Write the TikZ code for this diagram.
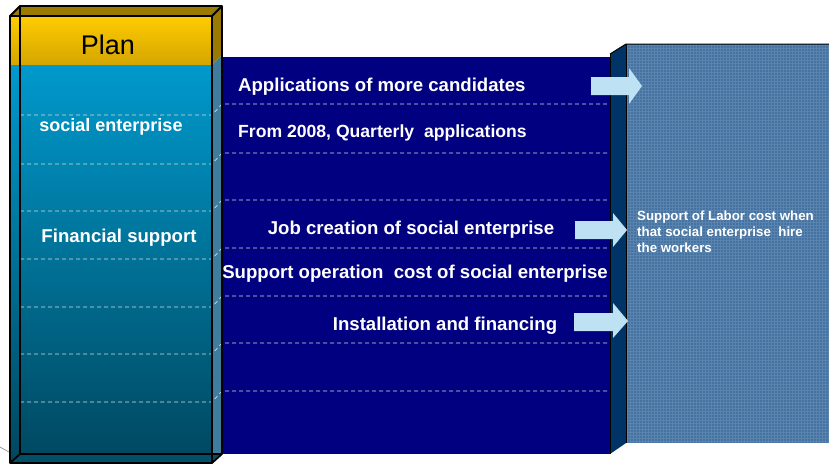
\documentclass[tikz,border=0pt]{standalone}
\usepackage{fontspec}
\setmainfont{Liberation Sans}
\definecolor{navypanel}{HTML}{000080}
\definecolor{rightface}{HTML}{4472A2}
\definecolor{rightside}{HTML}{003366}
\definecolor{arrowblue}{HTML}{BEE1F3}
\definecolor{goldtop}{HTML}{FFCC00}
\definecolor{goldbot}{HTML}{D4A500}
\definecolor{golddark}{HTML}{9A7A00}
\definecolor{bluetop}{HTML}{0099CC}
\definecolor{bluebot}{HTML}{00475F}
\definecolor{stripblue}{HTML}{3E7D9E}
\definecolor{bottomface}{HTML}{00506A}
\definecolor{dashgrey}{HTML}{DDDDDD}
\begin{document}
\begin{tikzpicture}[x=1pt,y=-1pt,line join=round,
  rowdash/.style={draw=dashgrey,dash pattern=on 4pt off 3pt,line width=0.7pt},
  boxedge/.style={draw=black,line width=1.8pt},
  paneltext/.style={text=white,font=\bfseries\fontsize{18.6}{22}\selectfont,inner sep=0pt},
  blockarrow/.style={fill=arrowblue,draw=none}]
\useasboundingbox (0,0) rectangle (829,464);
% right 3D panel
\fill[rightside] (610,54) -- (626,44) -- (626,443) -- (610,454) -- cycle;
\fill[rightface] (626,44) rectangle (829,443);
\begin{scope}
\clip (626,44) rectangle (829,443);
\draw[white,opacity=0.12,line width=0.5pt,step=3pt] (626,44) grid (829,443);
\end{scope}
\draw[black,line width=1pt] (610,54) -- (626,44) -- (829,44);
\draw[black,line width=1pt] (626,44) -- (626,443);
\draw[black,line width=0.4pt] (610,54) -- (610,454);
% navy panel
\fill[navypanel] (222,57) rectangle (610,454);
% left box faces
\fill[golddark] (10,16) -- (20,6) -- (222,6) -- (212,16) -- cycle;
\shade[top color=goldtop,bottom color=goldbot] (10,16) rectangle (212,65);
\shade[top color=bluetop,bottom color=bluebot] (10,65) rectangle (212,463);
\fill[golddark] (212,16) -- (222,6) -- (222,55) -- (212,65) -- cycle;
\fill[stripblue] (212,65) -- (222,55) -- (222,454) -- (212,463) -- cycle;
\fill[bottomface] (10,463) -- (20,454) -- (222,454) -- (212,463) -- cycle;
% dashed row lines
\foreach \y in {104,153,200,248,296,343,391}{
  \draw[rowdash] (20,\y+11) -- (212,\y+11) -- (222,\y) -- (610,\y);
}
% box edges
\draw[boxedge] (10,16) rectangle (212,463);
\draw[boxedge] (20,6) rectangle (222,454);
\draw[boxedge] (10,16) -- (20,6);
\draw[boxedge] (212,16) -- (222,6);
\draw[boxedge] (10,463) -- (20,454);
\draw[boxedge] (212,463) -- (222,454);
% small stray line
\draw[gray,line width=0.6pt] (0,447) -- (9,452);
% texts
\node[inner sep=0pt,font=\fontsize{27}{31}\selectfont] (plan) at (108,45) {Plan};
\node[paneltext,font=\bfseries\fontsize{18}{21}\selectfont] (se) at (111,126.5) {social enterprise};
\node[paneltext] (fs) at (119,237.5) {Financial support};
\node[paneltext,anchor=west] (t1) at (238,87) {Applications of more candidates};
\node[paneltext,anchor=west,font=\bfseries\fontsize{17.6}{21}\selectfont] (t2) at (238,132.5) {From 2008, Quarterly~ applications};
\node[paneltext] (t3) at (411,229.5) {Job creation of social enterprise};
\node[paneltext] (t4) at (415,274) {Support operation~ cost of social enterprise};
\node[paneltext] (t5) at (445,326) {Installation and financing};
\node[text=white,font=\bfseries\fontsize{13.3}{16}\selectfont,inner sep=0pt,anchor=north west,align=left] (rt) at (637,211) {Support of Labor cost when\\that social enterprise~ hire\\the workers};
% block arrows
\fill[blockarrow] (591,77) -- (629,77) -- (629,68) -- (642,86) -- (629,104) -- (629,95) -- (591,95) -- cycle;
\fill[blockarrow] (575,221) -- (613,221) -- (613,213) -- (627,230) -- (613,247) -- (613,239) -- (575,239) -- cycle;
\fill[blockarrow] (574,313) -- (613,313) -- (613,303) -- (628,321) -- (613,338) -- (613,331) -- (574,331) -- cycle;
\end{tikzpicture}
\end{document}
